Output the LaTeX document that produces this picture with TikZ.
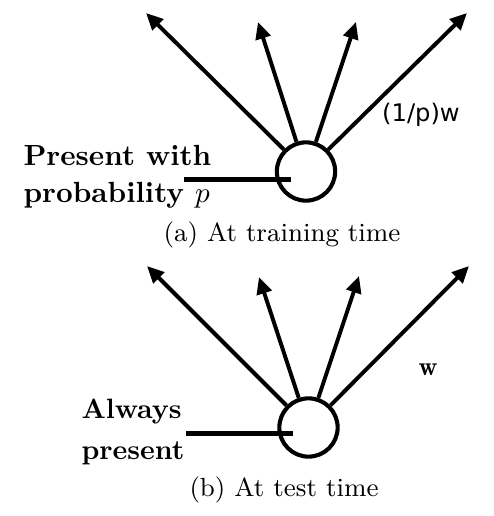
\documentclass[tikz,border=0pt]{standalone}
\usepackage{fontspec}
\newfontfamily\labelsans{DejaVu Sans}
\usepackage{tikz}
\usetikzlibrary{arrows.meta, positioning, calc}

\begin{document}
\begin{tikzpicture}[x=0.343pt, y=0.343pt,
    unit/.style={circle, draw, line width=1.4pt, minimum size=20pt, inner sep=0pt},
    weight/.style={line width=1.35pt, -{Triangle[length=5.8pt, width=5.2pt]}},
    feed/.style={line width=1.8pt},
    txt/.style={inner sep=0pt, anchor=base}]
  \useasboundingbox (0, 0) rectangle (494, 516);

  % (a) Training time
  \node[unit] (ua) at (306, 344.5) {};
  \coordinate (ta1) at (146, 503);
  \coordinate (ta2) at (258, 494);
  \coordinate (ta3) at (356, 494);
  \coordinate (ta4) at (467, 503);
  \draw[weight] (ua) -- (ta1);
  \draw[weight] (ua) -- (ta2);
  \draw[weight] (ua) -- (ta3);
  \draw[weight] (ua) -- (ta4);

  \node[txt, font={\fontsize{10}{12.6}\selectfont\bfseries}, align=left, anchor=base west] (presa) at (23, 313.3) {Present with\\probability $p$};
  \coordinate (ina) at (184, 336.7);
  \coordinate (inaend) at (291, 336.7);
  \draw[feed] (ina) -- (inaend);

  \node[txt, font={\fontsize{8.3}{10}\labelsans}] (wa) at (421, 395) {(1/p)w};
  \node[txt, font={\fontsize{9}{11}\selectfont}] (capa) at (282, 274) {(a) At training time};

  % (b) Test time
  \node[unit] (ub) at (308.5, 88.5) {};
  \coordinate (tb1) at (147, 250);
  \coordinate (tb2) at (259, 239);
  \coordinate (tb3) at (359, 240);
  \coordinate (tb4) at (469, 250);
  \draw[weight] (ub) -- (tb1);
  \draw[weight] (ub) -- (tb2);
  \draw[weight] (ub) -- (tb3);
  \draw[weight] (ub) -- (tb4);

  \node[txt, font={\fontsize{9.6}{14}\selectfont\bfseries}, align=left, anchor=base west] (presb) at (81, 57) {Always\\present};
  \coordinate (inb) at (186, 82.7);
  \coordinate (inbend) at (293, 82.7);
  \draw[feed] (inb) -- (inbend);

  \node[txt, font={\fontsize{9}{11}\selectfont}] (wb) at (428, 141) {$\mathbf{w}$};
  \node[txt, font={\fontsize{9}{11}\selectfont}] (capb) at (284, 19.3) {(b) At test time};
\end{tikzpicture}
\end{document}
